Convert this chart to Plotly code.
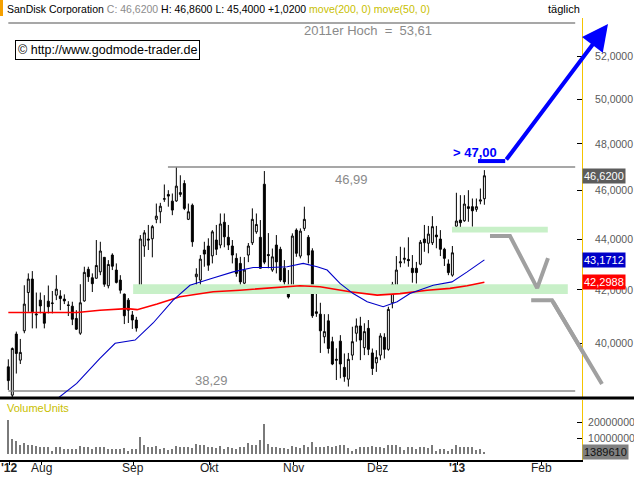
import math
import plotly.graph_objects as go

FONT = "Liberation Sans, Arial, sans-serif"

# ---------------- data (trading-day index, 20 Jul 2012 .. 11 Jan 2013) ----------------
day = list(range(120))

opens = [39.15, 38.15, 40.34, 39.39, 40.46, 41.90, 42.42, 41.05, 41.61, 41.14,
         41.57, 41.48, 41.80, 41.77, 41.65, 41.43, 41.38, 40.92, 40.37, 41.58,
         42.80, 42.47, 42.45, 42.70, 43.27, 42.16, 43.36, 42.77, 42.38, 41.84,
         41.61, 41.05, 40.86, 42.06, 43.72, 44.00, 44.01, 44.80, 45.11, 45.63,
         45.83, 45.55, 45.56, 45.83, 46.29, 44.80, 45.38, 42.51, 42.38, 43.56,
         43.72, 43.33, 43.96, 43.76, 44.68, 44.07, 43.72, 43.23, 43.03, 42.26,
         43.36, 43.85, 44.29, 44.07, 46.26, 43.38, 42.77, 43.76, 43.59, 42.84,
         42.18, 42.06, 44.36, 43.32, 44.43, 44.07, 43.53, 41.17, 41.08, 40.24,
         40.83, 40.06, 39.42, 40.08, 39.13, 38.71, 39.57, 40.37, 40.64, 39.84,
         40.55, 39.65, 39.29, 39.57, 40.22, 39.78, 41.51, 42.06, 43.05, 43.19,
         43.19, 42.84, 42.84, 43.00, 44.00, 43.83, 43.85, 44.16, 44.00, 43.59,
         43.01, 42.57, 44.52, 44.77, 44.74, 45.32, 45.32, 45.21, 45.55, 45.65]

highs = [39.42, 39.85, 40.43, 40.16, 42.18, 42.64, 42.73, 41.90, 41.90, 41.80,
         42.17, 41.96, 42.57, 41.99, 41.83, 41.57, 41.55, 41.23, 42.22, 42.90,
         42.90, 42.64, 43.96, 43.89, 43.27, 43.16, 43.43, 43.03, 42.57, 41.86,
         41.69, 41.20, 40.98, 44.16, 44.36, 44.57, 44.57, 45.45, 45.48, 46.25,
         46.01, 45.87, 46.99, 46.64, 46.43, 45.45, 45.45, 42.84, 43.36, 43.89,
         44.03, 44.36, 44.57, 45.04, 45.04, 44.57, 43.96, 43.43, 43.29, 43.28,
         43.84, 45.25, 45.04, 44.77, 46.82, 44.24, 43.62, 44.16, 43.69, 43.16,
         42.77, 44.23, 44.43, 44.43, 45.32, 44.16, 43.63, 42.06, 41.51, 41.08,
         41.08, 40.24, 39.82, 40.30, 39.63, 39.65, 40.61, 40.92, 40.98, 40.74,
         40.86, 39.81, 39.75, 40.37, 40.37, 41.36, 42.31, 43.32, 43.69, 43.66,
         44.07, 43.36, 43.09, 43.96, 44.57, 44.53, 44.93, 44.53, 44.36, 43.65,
         43.19, 43.72, 45.90, 45.80, 45.80, 46.01, 45.66, 45.66, 46.08, 46.86]

lows = [38.33, 38.00, 38.91, 39.25, 40.37, 41.17, 40.55, 40.55, 41.11, 40.55,
        41.11, 41.11, 41.61, 41.23, 41.46, 41.01, 40.67, 40.49, 40.31, 41.55,
        42.31, 41.92, 42.44, 42.57, 42.12, 42.06, 42.77, 42.25, 41.86, 40.71,
        40.75, 40.53, 40.43, 41.92, 43.29, 43.56, 43.27, 44.64, 44.64, 45.52,
        45.32, 44.97, 45.52, 45.73, 45.18, 44.77, 43.69, 41.99, 42.06, 42.90,
        42.74, 43.03, 43.36, 43.63, 43.67, 43.56, 43.03, 42.51, 41.89, 42.22,
        43.08, 43.76, 44.21, 42.84, 43.00, 42.84, 42.70, 42.64, 42.31, 42.06,
        41.67, 41.92, 43.29, 43.23, 44.33, 43.03, 40.94, 40.98, 39.65, 40.00,
        39.63, 39.21, 38.68, 38.74, 38.62, 38.45, 39.39, 40.06, 39.39, 39.57,
        39.57, 38.86, 38.97, 39.39, 39.45, 39.73, 41.30, 41.99, 42.88, 43.03,
        42.90, 42.28, 42.25, 42.96, 43.49, 43.43, 43.76, 43.63, 43.32, 42.93,
        42.57, 42.51, 44.36, 44.29, 44.70, 44.70, 44.50, 45.11, 45.42, 45.40]

closes = [38.66, 39.81, 39.63, 39.67, 41.46, 42.42, 41.17, 41.08, 41.39, 40.74,
          41.36, 41.50, 42.03, 41.67, 41.58, 41.41, 40.89, 40.52, 41.51, 42.68,
          42.51, 42.24, 42.95, 43.52, 42.22, 42.99, 42.92, 42.29, 41.99, 41.02,
          41.23, 40.86, 40.56, 44.00, 44.25, 43.96, 44.50, 44.93, 45.34, 45.65,
          45.76, 45.18, 46.18, 45.91, 45.25, 45.11, 43.89, 42.61, 43.20, 43.40,
          42.96, 44.29, 43.59, 44.61, 44.09, 43.76, 43.36, 42.64, 42.31, 42.77,
          43.72, 44.80, 44.59, 42.84, 43.08, 43.34, 43.29, 43.09, 42.38, 42.31,
          41.73, 44.12, 43.43, 44.32, 44.80, 43.36, 41.02, 41.11, 40.46, 40.43,
          39.81, 39.25, 39.39, 39.25, 38.80, 39.42, 40.06, 40.64, 40.12, 40.43,
          39.78, 39.09, 39.49, 40.27, 39.78, 41.26, 42.21, 42.77, 43.09, 43.23,
          43.14, 42.67, 42.67, 43.87, 43.85, 44.20, 44.50, 44.09, 43.59, 43.23,
          42.67, 43.45, 44.73, 44.66, 45.43, 45.25, 45.15, 45.32, 45.60, 46.62]

# volume in millions of shares
volume_m = [21.5, 9.6, 8.3, 5.8, 7.1, 5.4, 5.8, 5.0, 4.2, 4.6,
            4.6, 2.1, 4.6, 4.6, 2.9, 2.9, 3.3, 2.9, 5.0, 4.6,
            4.2, 2.9, 4.6, 4.6, 4.6, 3.3, 2.9, 3.3, 3.3, 3.75,
            2.1, 2.9, 3.3, 10.8, 5.8, 4.2, 4.6, 5.0, 3.3, 3.75,
            2.5, 3.3, 5.0, 4.2, 4.6, 4.2, 3.75, 6.25, 5.4, 5.4,
            4.2, 4.6, 3.75, 5.0, 3.3, 4.2, 3.75, 3.3, 4.6, 4.2,
            6.7, 5.4, 5.4, 8.75, 19.0, 6.25, 4.6, 4.2, 3.75, 3.75,
            3.3, 5.0, 4.2, 3.75, 5.4, 4.6, 7.5, 4.2, 4.6, 4.2,
            5.0, 4.2, 5.0, 5.8, 5.8, 3.75, 2.1, 3.3, 4.6, 4.2,
            4.6, 5.0, 4.6, 4.2, 3.75, 5.4, 5.8, 5.4, 4.6, 2.5,
            4.2, 4.6, 3.3, 4.6, 4.2, 3.75, 5.8, 1.7, 2.9, 3.3,
            2.1, 3.3, 5.4, 4.2, 4.6, 4.2, 4.2, 2.5, 2.9, 1.38961]

# moving averages (index, value)
ma50_idx = [12.0, 17.1, 22.9, 26.7, 31.7, 36.2, 41.2, 45.4, 51.2, 56.2, 61.2, 65.4, 69.7,
            73.7, 77.2, 79.7, 82.9, 86.2, 89.7, 93.7, 97.2, 100.4, 106.2, 110.9, 114.7, 119]
ma50_val = [38.0, 38.56, 39.45, 40.00, 40.12, 40.75, 41.61, 42.18, 42.46, 42.70, 42.87, 42.87, 42.90,
            43.03, 42.90, 42.77, 42.25, 41.86, 41.55, 41.36, 41.55, 41.86, 42.18, 42.31, 42.70, 43.1712]
ma200_idx = [0, 17.2, 22.9, 29.7, 32.2, 37.2, 42.9, 51.2, 57.9, 66.2, 72.9, 77.9, 85.4,
             92.2, 97.9, 104.7, 110.4, 114.7, 119]
ma200_val = [41.14, 41.14, 41.23, 41.29, 41.25, 41.46, 41.74, 41.93, 41.99, 42.10, 42.16, 42.12, 41.93,
             41.80, 41.86, 41.99, 42.06, 42.16, 42.2988]

# month ticks (trading-day index of first session of month)
month_idx = [0, 8, 31, 50, 71, 92, 112, 133]
month_lbl = ["<b>'12</b>", "Aug", "Sep", "Okt", "Nov", "Dez", "<b>'13</b>", "Feb"]

price_ticks = [40, 42, 44, 46, 48, 50, 52]
price_tick_lbl = ["40,0000", "42,0000", "44,0000", "46,0000", "48,0000", "50,0000", "52,0000"]

# levels / zones / projections (index, price)
levels = [(53.61, 0, 141.7), (46.99, 39.9, 141.7), (38.29, 0, 141.7)]
zones = [(31.2, 139.85, 41.84, 42.22), (110.9, 134.85, 44.26, 44.50)]
blue_path_x = [117.4, 124.2, 149.9]
blue_path_y = [47.25, 47.25, 53.55]
gray1_x = [120.4, 125.4, 132.2, 134.9]
gray1_y = [44.12, 44.12, 42.07, 43.24]
gray2_x = [130.7, 135.9, 148.4, 151.2]
gray2_y = [41.61, 41.61, 38.54, 39.28]

last_close, last_vol = closes[-1], volume_m[-1]

# ---------------- figure ----------------
L = math.log10
fig = go.Figure()

for x0, x1, lo, hi in zones:
    fig.add_trace(go.Scatter(x=[x0, x1, x1, x0, x0], y=[lo, lo, hi, hi, lo], mode="lines",
                             fill="toself", fillcolor="#c8f0c8", line=dict(width=0),
                             hoverinfo="skip", showlegend=False))
for val, x0, x1 in levels:
    fig.add_trace(go.Scatter(x=[x0, x1], y=[val, val], mode="lines",
                             line=dict(color="#8a8a8a", width=1.5), hoverinfo="skip", showlegend=False))

fig.add_trace(go.Candlestick(x=day, open=opens, high=highs, low=lows, close=closes,
                             increasing=dict(line=dict(color="black", width=1), fillcolor="white"),
                             decreasing=dict(line=dict(color="black", width=1), fillcolor="black"),
                             whiskerwidth=0, hoverinfo="skip", showlegend=False))

fig.add_trace(go.Scatter(x=ma200_idx, y=ma200_val, mode="lines", line=dict(color="#ff0000", width=1.6),
                         hoverinfo="skip", showlegend=False))
fig.add_trace(go.Scatter(x=ma50_idx, y=ma50_val, mode="lines", line=dict(color="#0000c8", width=1.1),
                         hoverinfo="skip", showlegend=False))

for px, py_, col in [(gray1_x, gray1_y, "#a0a0a0"), (gray2_x, gray2_y, "#a0a0a0"),
                     (blue_path_x[:2], blue_path_y[:2], "#0000ff")]:
    fig.add_trace(go.Scatter(x=px, y=py_, mode="lines", line=dict(color=col, width=4),
                             hoverinfo="skip", showlegend=False))

fig.add_trace(go.Bar(x=day, y=volume_m, yaxis="y2", width=0.28,
                     marker=dict(color="#7a7a7a", line=dict(width=0)), hoverinfo="skip", showlegend=False))

PLOT_TOP, PLOT_BOT, PLOT_W = 18, 460, 582
def py(p):
    return (PLOT_BOT - p) / (PLOT_BOT - PLOT_TOP)
def pxx(p):
    return p / PLOT_W

def seg(x0, y0, x1, y1, color, width, head=0, size=1.0):
    return dict(x=x1, y=L(y1), ax=x0, ay=L(y0), xref="x", yref="y", axref="x", ayref="y",
                text="", showarrow=True, arrowhead=head, arrowsize=size, arrowwidth=width,
                arrowcolor=color, standoff=0, startstandoff=0)

ann = []
ann.append(seg(gray2_x[1], gray2_y[1], gray2_x[2], gray2_y[2], "#a0a0a0", 4))
ann.append(seg(gray2_x[2], gray2_y[2], gray2_x[3], gray2_y[3], "#a0a0a0", 4))
ann.append(seg(blue_path_x[1], blue_path_y[1], blue_path_x[2], blue_path_y[2], "#0000ff", 4, head=2, size=1.3))

txt = dict(showarrow=False, font=dict(family=FONT, size=13, color="#8a8a8a"))
ann.append(dict(x=89.9, y=L(53.26), xref="x", yref="y", text="2011er Hoch\u00a0 =\u00a0 53,61", **txt))
ann.append(dict(x=85.9, y=L(46.48), xref="x", yref="y", text="46,99", **txt))
ann.append(dict(x=50.9, y=L(38.65), xref="x", yref="y", text="38,29", **txt))
ann.append(dict(x=116.7, y=L(47.62), xref="x", yref="y", text="<b>&gt; 47,00</b>", showarrow=False,
                font=dict(family=FONT, size=13, color="#0000ff")))

# month labels just below the volume panel
for mi, ml in zip(month_idx, month_lbl):
    ann.append(dict(x=mi + 0.2, y=py(467.5), xref="x", yref="paper", text=ml, showarrow=False,
                    xanchor="center", yanchor="middle",
                    font=dict(family=FONT, size=12, color="#222222")))

ann.append(dict(x=pxx(5), y=py(9), xref="paper", yref="paper", xanchor="left", yanchor="middle",
                showarrow=False, font=dict(family=FONT, size=10.5, color="black"),
                text="SanDisk Corporation <span style='color:#8c8c8c'>C: 46,6200</span> "
                     "H: 46,8600 L: 45,4000 +1,0200 "
                     "<span style='color:#c8c000'>move(200, 0) move(50, 0)</span>"))
ann.append(dict(x=1.0, y=py(9), xref="paper", yref="paper", xanchor="right", yanchor="middle",
                showarrow=False, font=dict(family=FONT, size=11, color="black"), text="täglich"))
ann.append(dict(x=pxx(15), y=py(50), xref="paper", yref="paper", xanchor="left", yanchor="middle",
                showarrow=False, font=dict(family=FONT, size=12.5, color="black"),
                text="© http://www.godmode-trader.de", bordercolor="black", borderwidth=1,
                borderpad=2, bgcolor="white"))
ann.append(dict(x=pxx(5), y=py(408), xref="paper", yref="paper", xanchor="left", yanchor="middle",
                showarrow=False, font=dict(family=FONT, size=11, color="#c8c000"), text="VolumeUnits"))

badge = dict(xref="paper", x=1.0, xanchor="left", showarrow=False, borderpad=1)
ann.append(dict(y=L(last_close), yref="y", text="46,6200", bgcolor="#5c5c5c",
                font=dict(family=FONT, size=11, color="white"), **badge))
ann.append(dict(y=L(ma50_val[-1]), yref="y", text="43,1712", bgcolor="#0000c8",
                font=dict(family=FONT, size=11, color="white"), **badge))
ann.append(dict(y=L(ma200_val[-1]), yref="y", text="42,2988", bgcolor="#ff0000",
                font=dict(family=FONT, size=11, color="white"), **badge))
ann.append(dict(y=last_vol, yref="y2", text="1389610", bgcolor="#808080",
                font=dict(family=FONT, size=11, color="#111111"), **badge))

shapes = [
    dict(type="line", xref="paper", yref="y domain", x0=0, x1=634 / PLOT_W, y0=0, y1=0,
         line=dict(color="black", width=3)),
    dict(type="rect", xref="paper", yref="paper", x0=0, x1=pxx(3), y0=py(16), y1=py(0),
         fillcolor="#f5a000", line=dict(width=0)),
]

axis_font = dict(family=FONT, size=10.5, color="#5a5a5a")
fig.update_layout(
    template="none",
    width=634, height=477,
    margin=dict(l=0, r=52, t=18, b=17, autoexpand=False),
    paper_bgcolor="white", plot_bgcolor="white",
    font=dict(family=FONT),
    showlegend=False, bargap=0,
    xaxis=dict(range=[-2.08, 143.4], anchor="y2", showgrid=False, zeroline=False, automargin=False,
               tickmode="array", tickvals=[m + 0.2 for m in month_idx], showticklabels=False,
               ticks="outside", ticklen=3, tickcolor="black",
               showline=True, linecolor="black", linewidth=2,
               rangeslider=dict(visible=False), fixedrange=True),
    yaxis=dict(domain=[py(398), 1], type="log", range=[L(38.05), L(53.85)], side="right",
               anchor="x", tickmode="array", tickvals=price_ticks, ticktext=price_tick_lbl,
               ticks="inside", ticklen=5, tickcolor="black", ticklabelstandoff=10, automargin=False,
               showline=True, linecolor="#f5c400", linewidth=1, showgrid=False, zeroline=False,
               tickfont=axis_font),
    yaxis2=dict(domain=[0, py(400)], range=[-3.75, 33.75], side="right", anchor="x",
                tickmode="array", tickvals=[10, 20], ticktext=["10000000", "20000000"],
                ticks="inside", ticklen=5, tickcolor="black", ticklabelstandoff=3, automargin=False,
                showline=True, linecolor="#f5c400", linewidth=1, showgrid=False, zeroline=False,
                tickfont=axis_font),
    annotations=ann,
    shapes=shapes,
)

fig.write_html("out.html", config={"displayModeBar": False},
               post_script="document.body.style.margin='0px';document.body.style.overflow='hidden';")
